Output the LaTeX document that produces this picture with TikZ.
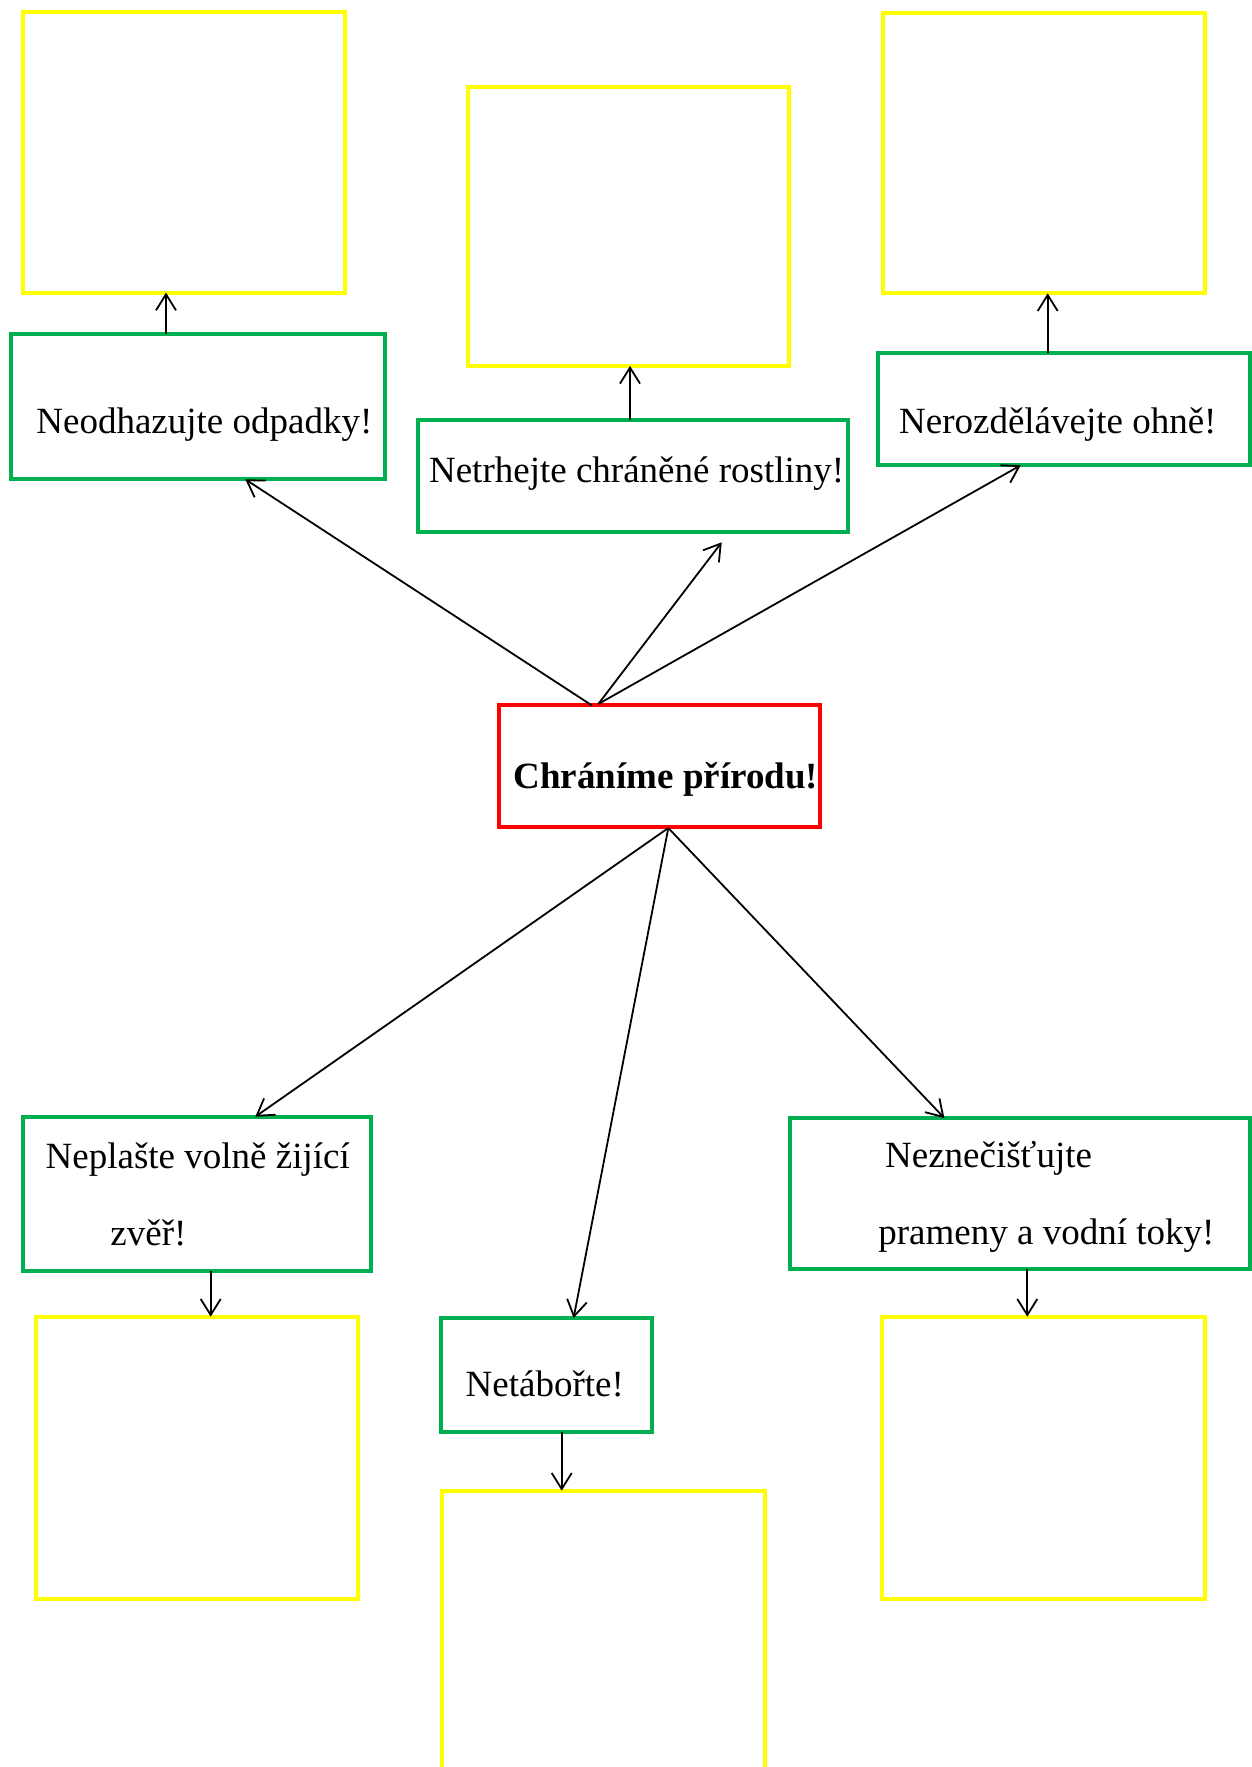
\documentclass[tikz,border=0pt]{standalone}
\usepackage{fontspec}
\setmainfont{Liberation Serif}
\usetikzlibrary{arrows.meta}
\definecolor{ybox}{HTML}{FFFF00}
\definecolor{gbox}{HTML}{00B050}
\definecolor{rbox}{HTML}{FF0000}
\tikzset{
  boxbase/.style={draw, line width=2pt, inner sep=0pt, outer sep=0pt, fill=none},
  ybx/.style={boxbase, draw=ybox},
  gbx/.style={boxbase, draw=gbox},
  rbx/.style={boxbase, draw=rbox},
  lbl/.style={anchor=base west, inner sep=0pt, font=\fontsize{18.5pt}{22pt}\selectfont},
  arr/.style={line width=0.9pt, -{Straight Barb[length=8pt,width=10pt,line width=0.9pt]}}
}
\newcommand{\bx}[6]{\node[#1, minimum width=#4*0.5pt, minimum height=#5*0.5pt] (#2) at (#3) {};}
\begin{document}
\begin{tikzpicture}[x=0.5pt,y=-0.5pt]
\useasboundingbox (0,0) rectangle (1252,1767);
\clip (0,0) rectangle (1252,1767);
% yellow boxes
\node[ybx, minimum width=161pt, minimum height=140.3pt] (y1) at (183.7,152.3) {};
\node[ybx, minimum width=160.6pt, minimum height=139.6pt] (y2) at (628.7,226.3) {};
\node[ybx, minimum width=161pt, minimum height=140pt] (y3) at (1044.3,153.3) {};
\node[ybx, minimum width=161pt, minimum height=141.1pt] (y4) at (197,1457.8) {};
\node[ybx, minimum width=161.3pt, minimum height=141pt] (y5) at (603.3,1631.7) {};
\node[ybx, minimum width=161.6pt, minimum height=141.1pt] (y6) at (1043.7,1457.8) {};
% green boxes
\node[gbx, minimum width=187pt, minimum height=72.6pt] (g1) at (197.7,406.7) {};
\node[gbx, minimum width=215pt, minimum height=56pt] (g2) at (633,476) {};
\node[gbx, minimum width=186pt, minimum height=56.3pt] (g3) at (1064,409) {};
\node[gbx, minimum width=174.3pt, minimum height=77pt] (g4) at (197,1193.7) {};
\node[gbx, minimum width=105.6pt, minimum height=57pt] (g5) at (546.3,1375) {};
\node[gbx, minimum width=230pt, minimum height=75.6pt] (g6) at (1020,1193.7) {};
% red box
\node[rbx, minimum width=160.6pt, minimum height=61pt] (r) at (659.3,766.3) {};
% texts
\node[lbl] (t1) at (36,433) {Neodhazujte odpadky!};
\node[lbl] (t2) at (428.7,482.7) {Netrhejte chráněné rostliny!};
\node[lbl] (t3) at (898.7,433) {Nerozdělávejte ohně!};
\node[lbl, font=\fontsize{18.5pt}{22pt}\selectfont\bfseries] (tr) at (513.3,788.3) {Chráníme přírodu!};
\node[lbl] (t4a) at (45.3,1168.3) {Neplašte volně žijící};
\node[lbl] (t4b) at (110,1245) {zvěř!};
\node[lbl] (t5) at (465.3,1396.7) {Netábořte!};
\node[lbl] (t6a) at (884.7,1167.3) {Neznečišťujte};
\node[lbl] (t6b) at (878,1244) {prameny a vodní toky!};
% helper coordinates
\coordinate (rtl) at (591.7,705.3);
\coordinate (rtm) at (598.3,704);
\coordinate (rb) at (668.3,828);
\coordinate (m2) at (721.7,542.3);
% vertical arrows
\draw[arr] (g1.north -| 166,0) -- (y1.south -| 166,0);
\draw[arr] (g2.north -| 630,0) -- (y2.south -| 630,0);
\draw[arr] (g3.north -| 1047.7,0) -- (y3.south -| 1047.7,0);
\draw[arr] (g4.south -| 210.7,0) -- (y4.north -| 210.7,0);
\draw[arr] (g5.south -| 561.7,0) -- (y5.north -| 561.7,0);
\draw[arr] (g6.south -| 1027.3,0) -- (y6.north -| 1027.3,0);
% diagonal arrows from the red box
\draw[arr] (rtl) -- (g1.south -| 245.3,0);
\draw[arr] (rtm) -- (m2);
\draw[arr] (rtm) -- (g3.south -| 1020.7,0);
\draw[arr] (rb) -- (g4.north -| 255.3,0);
\draw[arr] (rb) -- (g5.north -| 573.6,0);
\draw[arr] (rb) -- (g6.north -| 944.4,0);
\end{tikzpicture}
\end{document}
